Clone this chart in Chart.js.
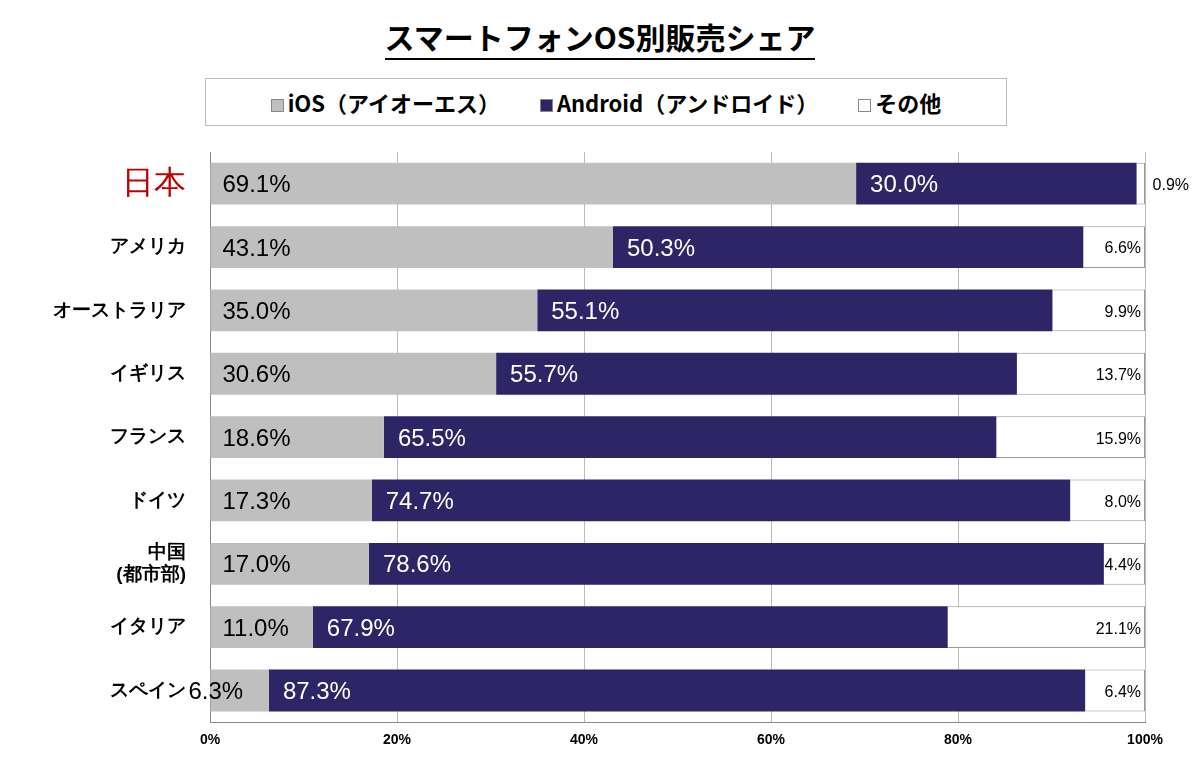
<!DOCTYPE html>
<html><head><meta charset="utf-8">
<script src="https://cdn.jsdelivr.net/npm/chart.js@4"></script>
<style>
body{margin:0;background:#fff;font-family:"Noto Sans CJK JP",sans-serif;}
#wrap{position:relative;width:1200px;height:771px;}
#title{position:absolute;top:14px;left:0;width:1200px;text-align:center;font-size:30px;font-weight:bold;}
#title span{border-bottom:2px solid #000;}
#legend{position:absolute;top:78px;left:205px;width:800px;height:46px;border:1px solid #bbb;display:flex;justify-content:center;align-items:center;gap:40px;font-size:22px;font-weight:bold;}
.sw{display:inline-block;width:11px;height:11px;margin-right:4px;border:1px solid #888;}
canvas{position:absolute;top:0;left:0;}
</style></head><body>
<div id="wrap">
<div id="title"><span>スマートフォンOS別販売シェア</span></div>
<div id="legend">
<div><span class="sw" style="background:#bfbfbf"></span>iOS（アイオーエス）</div>
<div><span class="sw" style="background:#2e2566"></span>Android（アンドロイド）</div>
<div><span class="sw" style="background:#fff"></span>その他</div>
</div>
<canvas id="c" width="1200" height="771"></canvas>
</div>
<script>
const countries = ['日本', 'アメリカ', 'オーストラリア', 'イギリス', 'フランス', 'ドイツ', ['中国', '(都市部)'], 'イタリア', 'スペイン'];
const iosShare = [69.1, 43.1, 35.0, 30.6, 18.6, 17.3, 17.0, 11.0, 6.3];
const androidShare = [30.0, 50.3, 55.1, 55.7, 65.5, 74.7, 78.6, 67.9, 87.3];
const otherShare = [0.9, 6.6, 9.9, 13.7, 15.9, 8.0, 4.4, 21.1, 6.4];
const xTicks = [0, 20, 40, 60, 80, 100];

const labelPlugin = {
    id: 'segLabels',
    afterDatasetsDraw(chart) {
        const ctx = chart.ctx;
        const xs = chart.scales.x;
        ctx.save();
        ctx.textBaseline = 'middle';
        chart.data.datasets.forEach(function (ds, di) {
            chart.getDatasetMeta(di).data.forEach(function (bar, i) {
                const v = ds.data[i];
                const left = Math.min(bar.x, bar.base);
                if (di === 0) {
                    ctx.font = '24px "Liberation Sans", Arial';
                    ctx.fillStyle = '#000';
                    ctx.textAlign = 'left';
                    ctx.fillText(v.toFixed(1) + '%', left + (v < 8 ? -22 : 12), bar.y + 2);
                } else if (di === 1) {
                    ctx.font = '24px "Liberation Sans", Arial';
                    ctx.fillStyle = '#fff';
                    ctx.textAlign = 'left';
                    ctx.fillText(v.toFixed(1) + '%', left + 14, bar.y + 2);
                } else {
                    ctx.font = '16px "Liberation Sans", Arial';
                    ctx.fillStyle = '#000';
                    ctx.textAlign = 'right';
                    ctx.fillText(v.toFixed(1) + '%', xs.getPixelForValue(100) - 4 + (v < 2 ? 48 : 0), bar.y + 2);
                }
            });
        });
        ctx.restore();
    }
};

new Chart(document.getElementById('c'), {
    type: 'bar',
    data: {
        labels: countries,
        datasets: [
            { label: 'iOS', data: iosShare, backgroundColor: '#bfbfbf' },
            { label: 'Android', data: androidShare, backgroundColor: '#2e2566' },
            { label: 'その他', data: otherShare, backgroundColor: '#ffffff', borderColor: '#999', borderWidth: 1 }
        ]
    },
    options: {
        indexAxis: 'y',
        responsive: false,
        animation: false,
        layout: { padding: { top: 152, right: 55, bottom: 12, left: 10 } },
        datasets: { bar: { barPercentage: 0.66, categoryPercentage: 1 } },
        plugins: { legend: { display: false }, tooltip: { enabled: false } },
        scales: {
            x: {
                stacked: true, min: 0, max: 100,
                afterBuildTicks: function (s) { s.ticks = xTicks.map(function (v) { return { value: v }; }); },
                grid: { color: '#bbb', drawTicks: false },
                border: { color: '#888' },
                ticks: { padding: 10, color: '#000', font: { size: 14, weight: 'bold', family: 'Liberation Sans' }, callback: function (v) { return v + '%'; } }
            },
            y: {
                stacked: true,
                afterFit: function (s) { s.width = 200; },
                grid: { display: false },
                border: { color: '#888' },
                ticks: {
                    color: function (c) { return c.index === 0 ? '#c00000' : '#000'; },
                    font: function (c) { return c.index === 0 ? { size: 32, weight: 'normal' } : { size: 19, weight: 'bold' }; },
                    padding: 16
                }
            }
        }
    },
    plugins: [labelPlugin]
});
</script>
</body></html>
